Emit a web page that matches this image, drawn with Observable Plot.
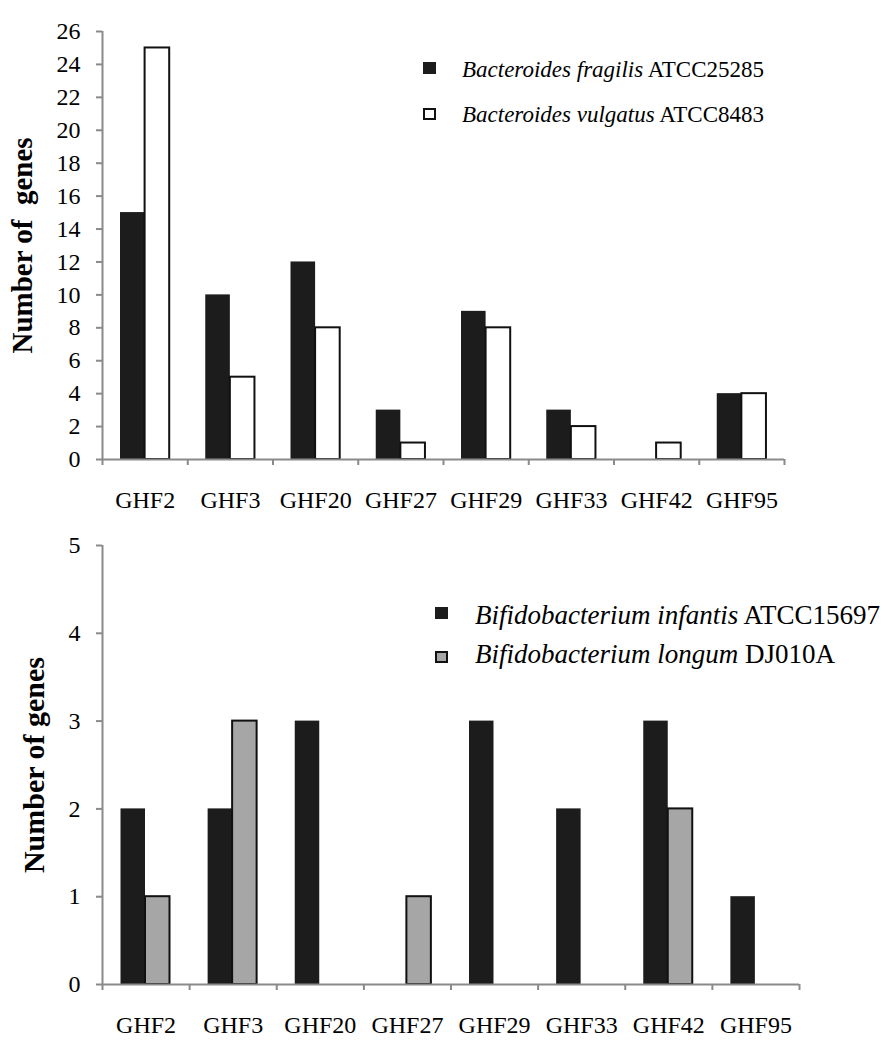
<!DOCTYPE html>
<html><head><meta charset="utf-8">
<script src="https://cdn.jsdelivr.net/npm/d3@7"></script>
<script src="https://cdn.jsdelivr.net/npm/@observablehq/plot@0.6"></script>
<style>
body{margin:0;background:#fff;}
#wrap{position:relative;width:891px;height:1050px;font-family:"Liberation Serif","Times New Roman",serif;color:#000;}
.panel{position:absolute;left:0;}
svg text{white-space:pre;}
.leg{position:absolute;white-space:nowrap;}
.sw{position:absolute;width:13px;height:12px;box-sizing:border-box;}
</style></head><body><div id="wrap"></div>
<script>
const categories = ["GHF2","GHF3","GHF20","GHF27","GHF29","GHF33","GHF42","GHF95"];
const bacteroidesFragilis = [15,10,12,3,9,3,0,4];
const bacteroidesVulgatus = [25,5,8,1,8,2,1,4];
const bifidoInfantis = [2,2,3,0,3,2,3,1];
const bifidoLongum = [1,3,0,1,0,0,2,0];
const topTicks = [0,2,4,6,8,10,12,14,16,18,20,22,24,26];
const bottomTicks = [0,1,2,3,4,5];

const FONT = "Liberation Serif, Times New Roman, serif";
const AXIS = "#8a8a8a";
const W = 891;

function panel({height, marginTop, marginBottom, marginRight, yMax, ticks, s1, s2, fill2, label, labelDx, labelSize, barW, outer}) {
  const marginLeft = 102;
  const bw = (W - marginLeft - marginRight) / categories.length;
  const d1 = categories.map((c, i) => ({c, v: s1[i]})).filter(d => d.v > 0);
  const d2 = categories.map((c, i) => ({c, v: s2[i]})).filter(d => d.v > 0);
  const last = categories[categories.length - 1];
  return Plot.plot({
    width: W, height, marginLeft, marginRight, marginTop, marginBottom,
    style: {fontFamily: FONT, background: "white", color: "black", overflow: "visible"},
    x: {type: "band", domain: categories, padding: 0, round: false, label: null},
    y: {domain: [0, yMax], label: null},
    marks: [
      Plot.barY(d1, {x: "c", y: "v", fill: "#1c1c1c", insetLeft: outer, insetRight: bw - outer - barW}),
      Plot.barY(d2, {x: "c", y: "v", fill: fill2, stroke: "#111", strokeWidth: 2, insetLeft: outer + barW, insetRight: bw - outer - 2 * barW}),
      Plot.ruleY([0], {stroke: AXIS, strokeWidth: 2}),
      Plot.ruleX([categories[0]], {x: d => d, dx: -bw / 2, y1: 0, y2: yMax, stroke: AXIS, strokeWidth: 2}),
      Plot.ruleX(categories, {x: d => d, dx: -bw / 2, y1: 0, y2: 0, insetBottom: -6, stroke: AXIS, strokeWidth: 2}),
      Plot.ruleX([last], {x: d => d, dx: bw / 2, y1: 0, y2: 0, insetBottom: -6, stroke: AXIS, strokeWidth: 2}),
      Plot.axisY({ticks, tickSize: 6, tickPadding: 16, stroke: AXIS, strokeWidth: 2, fontSize: 24, fill: "black", label: null, tickFormat: d => String(d)}),
      Plot.axisX({tickSize: 0, tickPadding: 31, fontSize: 24, fill: "black", label: null}),
      Plot.text([label], {frameAnchor: "left", textAnchor: "middle", lineAnchor: "middle", rotate: -90, dx: -labelDx, fontSize: labelSize, fontWeight: "bold", fill: "black"})
    ]
  });
}

const wrap = document.getElementById("wrap");

const top1 = panel({height: 520, marginTop: 31, marginBottom: 61, marginRight: 107, yMax: 26, ticks: topTicks,
  s1: bacteroidesFragilis, s2: bacteroidesVulgatus, fill2: "white", label: "Number of  genes", labelDx: 79.5, labelSize: 29, barW: 24.6, outer: 18});
const p1 = document.createElement("div"); p1.className = "panel"; p1.style.top = "0px"; p1.appendChild(top1); wrap.appendChild(p1);

const bot = panel({height: 530, marginTop: 25, marginBottom: 66, marginRight: 92, yMax: 5, ticks: bottomTicks,
  s1: bifidoInfantis, s2: bifidoLongum, fill2: "#a6a6a6", label: "Number of genes", labelDx: 68, labelSize: 30, barW: 24.5, outer: 18.5});
const p2 = document.createElement("div"); p2.className = "panel"; p2.style.top = "520px"; p2.appendChild(bot); wrap.appendChild(p2);

const legendNames = ["Bacteroides fragilis", "Bacteroides vulgatus", "Bifidobacterium infantis", "Bifidobacterium longum"];
const legendStrains = [" ATCC25285", " ATCC8483", " ATCC15697", " DJ010A"];
const legendFills = ["#1c1c1c", "white", "#1c1c1c", "#a6a6a6"];
const legendLayout = [
  {swL: 423, swT: 62, txL: 462, txT: 57.7, size: 23},
  {swL: 423, swT: 108, txL: 462, txT: 102.7, size: 23},
  {swL: 435, swT: 607, txL: 475, txT: 602.4, size: 27},
  {swL: 435, swT: 651, txL: 475, txT: 641.4, size: 27}
];
legendNames.forEach((name, k) => {
  const l = legendLayout[k];
  const s = document.createElement("div");
  s.className = "sw";
  s.style.left = l.swL + "px"; s.style.top = l.swT + "px";
  s.style.background = legendFills[k];
  s.style.border = legendFills[k] === "#1c1c1c" ? "none" : "2px solid #111";
  wrap.appendChild(s);
  const t = document.createElement("div");
  t.className = "leg";
  t.style.left = l.txL + "px"; t.style.top = l.txT + "px";
  t.style.fontSize = l.size + "px"; t.style.lineHeight = l.size + "px";
  const i = document.createElement("i"); i.textContent = name;
  t.appendChild(i); t.appendChild(document.createTextNode(legendStrains[k]));
  wrap.appendChild(t);
});
</script></body></html>
